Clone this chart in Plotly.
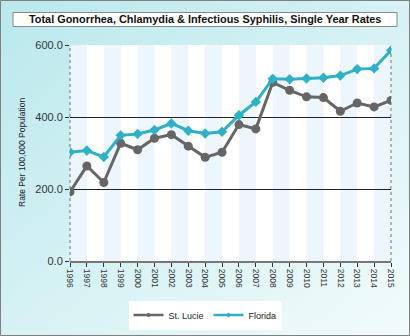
import base64
import plotly.graph_objects as go

years = [str(y) for y in range(1996, 2016)]
st_lucie = [192, 264, 218, 327, 309, 341, 351, 319, 288, 302, 379, 367, 496, 474, 456, 454, 416, 439, 428, 446]
florida = [302, 307, 289, 349, 353, 364, 382, 362, 354, 359, 405, 442, 506, 505, 507, 509, 515, 533, 535, 585]
y_ticks = [0, 200, 400, 600]
y_tick_labels = ["0.0", "200.0", "400.0", "600.0"]

W, H = 410, 336
L, R, T, B = 70, 19, 45, 75
PW, PH = W - L - R, H - T - B

def px_x(p):
    return (p - L) / PW

def px_y(p):
    return (H - B - p) / PH

xnum = list(range(len(years)))
GRAY = "#666666"
CYAN = "#2fb0c7"

fig = go.Figure()
fig.add_trace(go.Scatter(
    x=xnum, y=st_lucie, name="St. Lucie", mode="lines+markers", showlegend=False,
    line=dict(color=GRAY, width=3),
    marker=dict(symbol="circle", size=9, color=GRAY),
))
fig.add_trace(go.Scatter(
    x=xnum, y=florida, name="Florida", mode="lines+markers", showlegend=False,
    line=dict(color=CYAN, width=3),
    marker=dict(symbol="diamond", size=8, color=CYAN),
))
fig.add_trace(go.Scatter(x=[None], y=[None], name="St. Lucie", mode="lines+markers",
                         line=dict(color=GRAY, width=2.5), marker=dict(symbol="circle", size=4, color=GRAY)))
fig.add_trace(go.Scatter(x=[None], y=[None], name="Florida", mode="lines+markers",
                         line=dict(color=CYAN, width=2.5), marker=dict(symbol="diamond", size=4, color=CYAN)))

svg = ('<svg xmlns="http://www.w3.org/2000/svg" width="410" height="336">'
       '<defs><linearGradient id="g" x1="0" y1="0" x2="1" y2="1">'
       '<stop offset="0" stop-color="#b9e8ec"/><stop offset="1" stop-color="#f3fbfb"/>'
       '</linearGradient></defs><rect width="410" height="336" fill="url(#g)"/></svg>')
src = "data:image/svg+xml;base64," + base64.b64encode(svg.encode()).decode()

shapes = []
shapes.append(dict(type="rect", xref="paper", yref="paper", x0=0, x1=1, y0=0, y1=1,
                   fillcolor="white", line=dict(width=0), layer="below"))
for i in range(0, len(years) - 1, 2):
    shapes.append(dict(type="rect", xref="x", yref="paper", x0=xnum[i], x1=xnum[i + 1], y0=0, y1=1,
                       fillcolor="#edf5fd", line=dict(width=0), layer="below"))
for xv in (0, 1):
    shapes.append(dict(type="line", xref="paper", yref="paper", x0=xv, x1=xv, y0=0, y1=1,
                       line=dict(color="#777777", width=1, dash="dot"), layer="below"))
shapes.append(dict(type="rect", xref="paper", yref="paper",
                   x0=px_x(13), x1=px_x(397), y0=px_y(26.5), y1=px_y(12.5),
                   fillcolor="white", line=dict(color="#888888", width=1)))
shapes.append(dict(type="rect", xref="paper", yref="paper",
                   x0=px_x(0.5), x1=px_x(409.5), y0=px_y(335.5), y1=px_y(0.5),
                   fillcolor="rgba(0,0,0,0)", line=dict(color="#808080", width=1)))

fig.update_layout(
    width=W, height=H,
    margin=dict(l=L, r=R, t=T, b=B, autoexpand=False),
    paper_bgcolor="#dff4f5",
    plot_bgcolor="rgba(0,0,0,0)",
    font=dict(family="Liberation Sans, Arial, sans-serif", color="#333333"),
    images=[dict(source=src, xref="paper", yref="paper", x=px_x(0), y=px_y(0),
                 sizex=W / PW, sizey=H / PH, sizing="stretch", layer="below",
                 xanchor="left", yanchor="top")],
    shapes=shapes,
    annotations=[
        dict(text="<b>Total Gonorrhea, Chlamydia &amp; Infectious Syphilis, Single Year Rates</b>",
             xref="paper", yref="paper", x=px_x(205), y=px_y(19.5), showarrow=False,
             xanchor="center", yanchor="middle", font=dict(size=10.9, color="#111111")),
        dict(text="Rate Per 100,000 Population", xref="paper", yref="paper",
             x=px_x(22), y=px_y(153), showarrow=False, textangle=-90,
             xanchor="center", yanchor="middle", font=dict(size=8.5, color="#222222")),
    ],
    xaxis=dict(
        range=[0, len(years) - 1], tickmode="array", tickvals=xnum, ticktext=years,
        tickangle=90, tickfont=dict(size=8.5, color="#333333"),
        showgrid=False, zeroline=False, showline=True, linecolor="#777777", linewidth=2,
        ticks="outside", ticklen=4, tickcolor="#333333", automargin=False,
    ),
    yaxis=dict(
        range=[0, 600], tickmode="array", tickvals=y_ticks, ticktext=y_tick_labels,
        tickfont=dict(size=11, color="#333333"),
        showgrid=True, gridcolor="#222222", gridwidth=1, zeroline=False,
        showline=False, ticks="outside", ticklen=4, tickcolor="#333333", automargin=False,
    ),
    showlegend=True,
    legend=dict(orientation="h", xref="container", yref="container",
                x=205 / W, y=1 - 315 / H, xanchor="center", yanchor="middle",
                bgcolor="white", font=dict(size=9, color="#222222"),
                itemwidth=30, tracegroupgap=0),
)

fig.write_html("out.html")
